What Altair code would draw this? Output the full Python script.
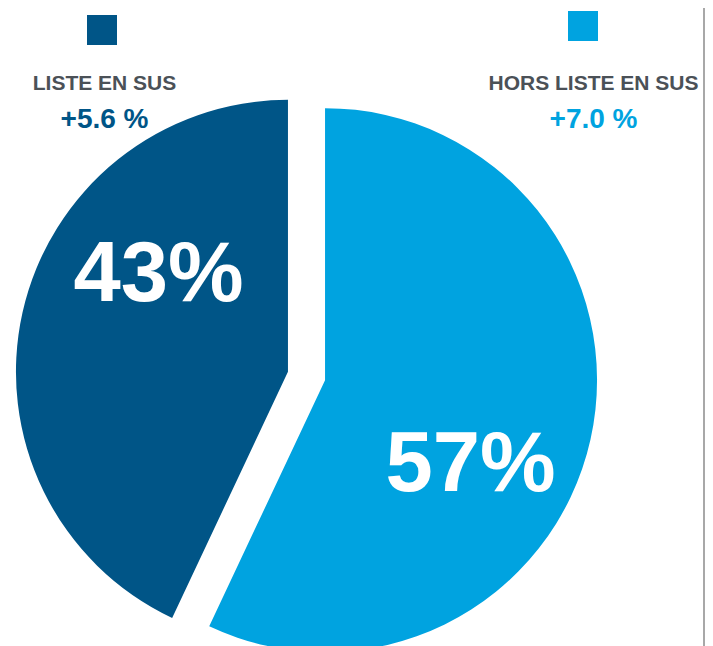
import altair as alt
import pandas as pd

# ---- data ----
categories = ["LISTE EN SUS", "HORS LISTE EN SUS"]
shares = [43, 57]
growth = ["+5.6 %", "+7.0 %"]
colors = ["#005587", "#00a3e0"]

df = pd.DataFrame({"category": categories, "share": shares, "growth": growth})

W, H = 697, 638
R = 272
FONT = "Liberation Sans"
GRAY = "#4b5157"

color_enc = alt.Color("category:N", scale=alt.Scale(domain=categories, range=colors), legend=None)

base = alt.Chart(df).transform_window(
    end="sum(share)", sort=[alt.SortField("category", order="ascending")], frame=[None, 0]
).transform_calculate(
    start="datum.end - datum.share",
    mid="(datum.end - datum.share/2) / 100 * 2 * PI",
).transform_calculate(
    cx="298.5 + 19 * sin(datum.mid)",
    cy="368 - 19 * cos(datum.mid)",
).transform_calculate(
    lx="datum.cx + 8 + 165 * sin(datum.mid + 21 * PI / 180)",
    ly="datum.cy - 10 - 165 * cos(datum.mid + 21 * PI / 180) + 30",
    pct="datum.share + '%'",
)

arcs = base.mark_arc(stroke=None).encode(
    theta=alt.Theta("start:Q", scale=alt.Scale(domain=[0, 100], range=[0, 6.283185307179586])),
    theta2="end:Q",
    radius=alt.value(R),
    x=alt.X("cx:Q", scale=None, axis=None),
    y=alt.Y("cy:Q", scale=None, axis=None),
    color=color_enc,
)

pct_text = base.mark_text(
    font=FONT, fontWeight="bold", fontSize=85, color="white", align="center", baseline="alphabetic"
).encode(
    x=alt.X("lx:Q", scale=None, axis=None),
    y=alt.Y("ly:Q", scale=None, axis=None),
    text="pct:N",
)

hx = alt.X("category:N", scale=alt.Scale(type="point", domain=categories, range=[96.5, 585.5], padding=0), axis=None)

squares = alt.Chart(df).mark_square(size=900, opacity=1).encode(
    x=alt.X("category:N", scale=alt.Scale(type="point", domain=categories, range=[94, 575], padding=0), axis=None),
    y=alt.Y("category:N", scale=alt.Scale(type="point", domain=categories, range=[22, 18], padding=0), axis=None),
    color=color_enc,
)

names = alt.Chart(df).mark_text(
    font=FONT, fontWeight="bold", fontSize=21, color=GRAY, align="center", baseline="alphabetic"
).encode(x=hx, y=alt.value(82), text="category:N")

growth_text = alt.Chart(df).mark_text(
    font=FONT, fontWeight="bold", fontSize=28, align="center", baseline="alphabetic"
).encode(x=hx, y=alt.value(120), text="growth:N", color=color_enc)

frame_line = alt.Chart(df).mark_rule(color="#a8a8a8", strokeWidth=2).encode(
    x=alt.value(696), y=alt.value(0), y2=alt.value(H)
)

chart = alt.layer(arcs, pct_text, squares, names, growth_text, frame_line).resolve_scale(
    x="independent", y="independent"
).properties(
    width=W, height=H, autosize=alt.AutoSizeParams(type="none"), padding=0
).configure_view(stroke=None)

chart.save("out.html", embed_options={"renderer": "svg", "actions": False})
